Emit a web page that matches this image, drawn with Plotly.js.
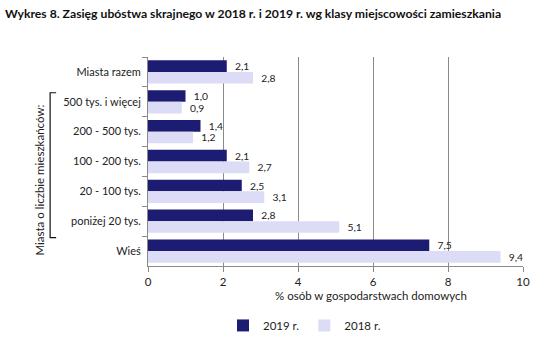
<!DOCTYPE html>
<html><head><meta charset="utf-8">
<script src="https://cdn.plot.ly/plotly-3.0.1.min.js"></script>
<style>html,body{margin:0;padding:0;background:#fff}</style>
</head><body><div id="chart" style="width:551px;height:352px"></div>
<script>
var categories = ["Miasta razem","500 tys. i więcej","200 - 500 tys.","100 - 200 tys.","20 - 100 tys.","poniżej 20 tys.","Wieś"];
var values2019 = [2.1, 1.0, 1.4, 2.1, 2.5, 2.8, 7.5];
var values2018 = [2.8, 0.9, 1.2, 2.7, 3.1, 5.1, 9.4];
var seriesNames = ["2019 r.", "2018 r."];
var xTicks = [0, 2, 4, 6, 8, 10];

function fmt(v){ return "  " + v.toFixed(1).replace(".", ","); }
var font = "Lato, 'Open Sans', sans-serif";

var traces = [
  {type:"bar", orientation:"h", name:seriesNames[0], y:categories, x:values2019,
   marker:{color:"#1c1c72"}, text:values2019.map(fmt), textposition:"outside",
   textfont:{size:11.5,color:"#222",family:font}, cliponaxis:false, hoverinfo:"none"},
  {type:"bar", orientation:"h", name:seriesNames[1], y:categories, x:values2018,
   marker:{color:"#dcdcf6"}, text:values2018.map(fmt), textposition:"outside",
   textfont:{size:11.5,color:"#222",family:font}, cliponaxis:false, hoverinfo:"none"}
];

var layout = {
  width:551, height:352,
  margin:{l:148, r:28, t:57, b:74},
  paper_bgcolor:"#fff", plot_bgcolor:"#fff",
  font:{family:font, size:11.5, color:"#222"},
  barmode:"group", bargap:0.22, bargroupgap:0,
  showlegend:true,
  legend:{orientation:"h", x:0.2, xanchor:"left", y:-0.215, yanchor:"top",
          font:{size:11.5}, traceorder:"normal", itemwidth:30, tracegroupgap:0},
  title:{text:"<b>Wykres 8. Zasięg ubóstwa skrajnego w 2018 r. i 2019 r. wg klasy miejscowości zamieszkania</b>",
         x:0.009, xanchor:"left", y:0.96, yanchor:"middle", font:{size:12.2, color:"#111", family:font}},
  xaxis:{range:[0,10], tickvals:xTicks, ticktext:xTicks.map(String), showgrid:true, gridcolor:"#8a8a8a", gridwidth:1,
         showline:true, linecolor:"#8a8a8a", linewidth:1, ticks:"outside", ticklen:5, tickcolor:"#8a8a8a",
         zeroline:false, tickfont:{size:11.5}, fixedrange:true},
  yaxis:{autorange:"reversed", showgrid:false, showline:true, linecolor:"#8a8a8a", linewidth:1,
         ticks:"outside", tickson:"boundaries", ticklen:5, tickcolor:"#8a8a8a", ticklabelstandoff:4,
         tickfont:{size:11}, fixedrange:true},
  annotations:[
    {text:"% osób w gospodarstwach domowych", xref:"paper", yref:"paper", x:0.595, y:-0.1,
     xanchor:"center", yanchor:"top", showarrow:false, font:{size:11.5}},
    {text:"Miasta o liczbie mieszkańców:", xref:"paper", yref:"paper", x:-0.29, y:0.41,
     xanchor:"center", yanchor:"middle", textangle:-90, showarrow:false, font:{size:11.5}}
  ],
  shapes:[
    {type:"path", xref:"paper", yref:"paper", path:"M -0.245 0.829 L -0.261 0.829 L -0.261 0.136 L -0.245 0.136",
     line:{color:"#111", width:1.2}}
  ]
};
Plotly.newPlot("chart", traces, layout, {displayModeBar:false, staticPlot:true});
</script></body></html>
